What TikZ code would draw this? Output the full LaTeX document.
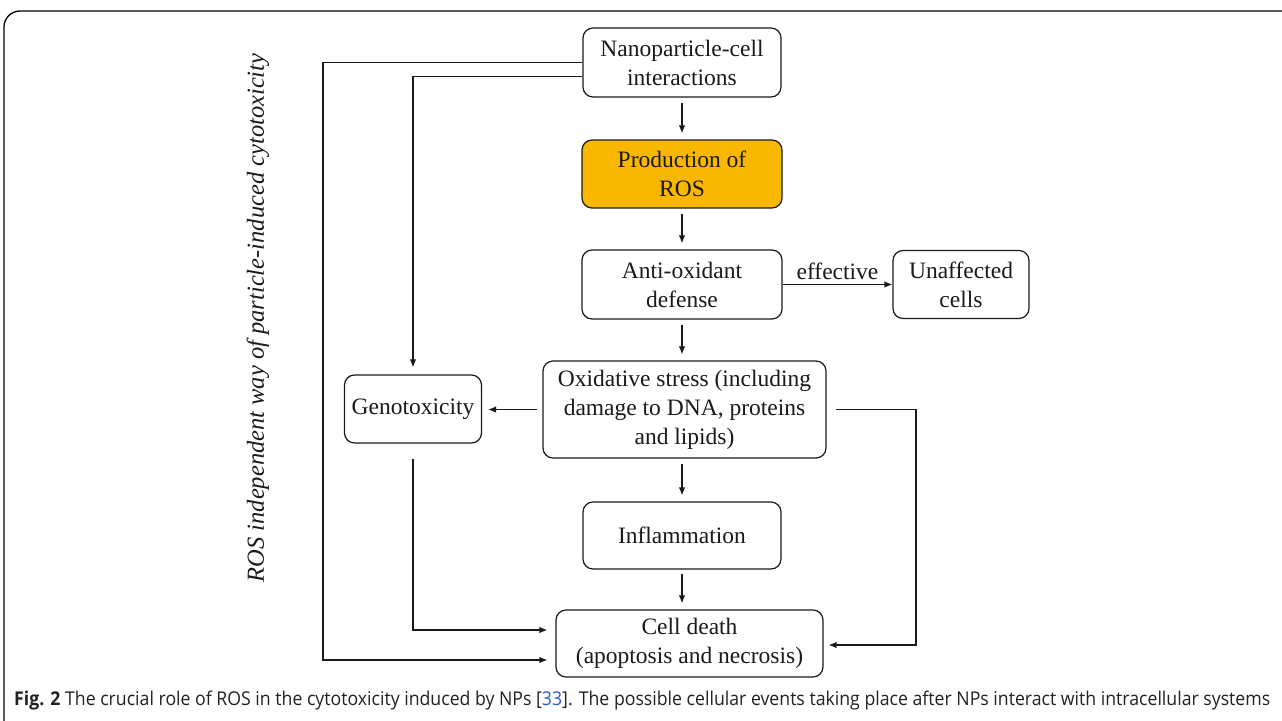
\documentclass[tikz,border=0pt]{standalone}
\usepackage{fontspec}
\setmainfont{Liberation Serif}
\newfontfamily\capfont{Open Sans}
\usetikzlibrary{arrows.meta,calc}
\definecolor{rosfill}{HTML}{F9B700}
\definecolor{linkblue}{HTML}{2B5BD6}
\definecolor{captext}{HTML}{222222}
\definecolor{ink}{HTML}{1A1A1A}
\begin{document}
\begin{tikzpicture}[x=1pt,y=-1pt,
  box/.style={draw=ink, text=ink, rounded corners=10pt, line width=1.2pt, align=center, inner sep=0pt,
              font=\fontsize{23.5}{29}\selectfont},
  arr/.style={draw=ink, -{Latex[length=8pt,width=6.5pt]}, line width=1.25pt}]
\useasboundingbox (0,0) rectangle (1282,720);
\fill[white] (0,0) rectangle (1282,720);
\draw[line width=1.3pt, rounded corners=16pt] (4,760) -- (4,11) -- (1330,11);

\node[box, minimum width=198pt, minimum height=69pt] (nano) at (682,62.5) {Nanoparticle-cell\\interactions};
\node[box, minimum width=200pt, minimum height=68pt, fill=rosfill] (ros) at (682,174) {Production of\\ROS};
\node[box, minimum width=200pt, minimum height=69pt] (anti) at (682,284.5) {Anti-oxidant\\defense};
\node[box, minimum width=136pt, minimum height=68pt] (unaff) at (961,284.5) {Unaffected\\cells};
\node[box, minimum width=283pt, minimum height=97pt] (oxid) at (684.5,409.5) {Oxidative stress (including\\damage to DNA, proteins\\and lipids)};
\node[box, minimum width=137pt, minimum height=68pt] (geno) at (413,409) {Genotoxicity};
\node[box, minimum width=198pt, minimum height=67pt] (infl) at (682,535.5) {Inflammation};
\node[box, minimum width=267pt, minimum height=67pt] (death) at (689.5,643.5) {Cell death\\(apoptosis and necrosis)};

\node[rotate=90, text=ink, font=\itshape\fontsize{24.5}{28}\selectfont] (side) at (258,318) {ROS independent way of particle-induced cytotoxicity};

% vertical chain
\draw[arr, shorten <=5pt, shorten >=6pt] (nano) -- (ros);
\draw[arr, shorten <=5pt, shorten >=6pt] (ros) -- (anti);
\draw[arr, shorten <=5pt, shorten >=6pt] (anti.south) -- (anti.south |- oxid.north);
\draw[arr, shorten <=5pt, shorten >=6pt] (infl.north |- oxid.south) -- (infl.north);
\draw[arr, shorten <=4pt, shorten >=6pt] (infl.south) -- (infl.south |- death.north);

% effective
\draw[arr] (anti.east) -- node[above=1pt, text=ink, font=\fontsize{23.5}{29}\selectfont] (eff) {effective} (unaff.west);

% oxid -> geno
\draw[arr, shorten <=5pt, shorten >=6pt] (oxid.west) -- (oxid.west -| geno.east);

% outer ROS-independent path
\coordinate (L1) at (323,62.5);
\draw[arr, shorten >=8pt] (nano.west) -- (L1) |- ($(death.west)+(0,16.5)$);
\coordinate (L2) at (413,76.5);
\draw[arr, shorten >=7pt] ($(nano.west)+(0,14)$) -- (L2) -- (geno.north);

% geno -> death
\coordinate (G1) at (413,630);
\draw[arr, shorten <=15pt, shorten >=8pt] (geno.south) -- (G1) -- ($(death.west)+(0,-13.5)$);

% oxid -> death (right)
\coordinate (R1) at (916,409.5);
\coordinate (R2) at (916,645);
\draw[arr, shorten <=9pt, shorten >=5pt] (oxid.east) -- (R1) -- (R2) -- ($(death.east)+(0,1.5)$);

% caption
\node[anchor=west, inner sep=0pt, text=captext] (cap) at (14,701)
 {\resizebox{1256pt}{\height}{\capfont\fontsize{19}{22}\selectfont\textbf{Fig. 2} The crucial role of ROS in the cytotoxicity induced by NPs [\textcolor{linkblue}{33}]. The possible cellular events taking place after NPs interact with intracellular systems}};
\end{tikzpicture}
\end{document}
